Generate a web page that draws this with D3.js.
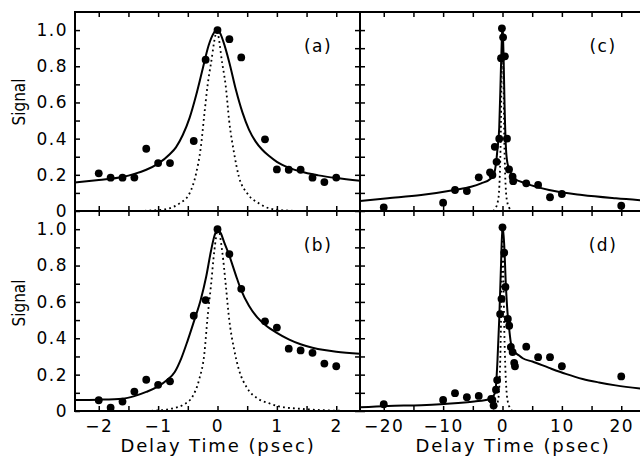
<!DOCTYPE html>
<html>
<head>
<meta charset="utf-8">
<script src="https://cdn.jsdelivr.net/npm/d3@7"></script>
<style>
  body { margin: 0; background: #fff; }
  svg { display: block; }
  text { font-family: "DejaVu Sans", sans-serif; fill: #000; }
</style>
</head>
<body>
<svg id="chart" width="640" height="463"></svg>
<script>
// ---- measured points (delay in psec, normalised signal) ----
const aTime   = [-2, -1.8, -1.6, -1.4, -1.2, -1.0, -0.8, -0.4, -0.2, 0, 0.2, 0.4, 0.8, 1.0, 1.2, 1.4, 1.6, 1.8, 2.0];
const aSignal = [0.208, 0.184, 0.184, 0.185, 0.344, 0.265, 0.265, 0.387, 0.836, 1.0, 0.95, 0.849, 0.396, 0.230, 0.228, 0.228, 0.184, 0.160, 0.185];

const bTime   = [-2, -1.8, -1.6, -1.4, -1.2, -1.0, -0.8, -0.4, -0.2, 0, 0.2, 0.4, 0.8, 1.0, 1.2, 1.4, 1.6, 1.8, 2.0];
const bSignal = [0.059, 0.018, 0.052, 0.107, 0.172, 0.144, 0.163, 0.524, 0.61, 1.0, 0.863, 0.672, 0.493, 0.459, 0.343, 0.333, 0.32, 0.261, 0.246];

const cTime   = [-20, -10, -8, -6, -4, -2.1, -1.7, -1.3, -1.0, -0.55, -0.25, -0.1, 0.1, 0.4, 0.75, 1.1, 1.7, 1.8, 4, 6, 8, 10, 20];
const cSignal = [0.02, 0.046, 0.116, 0.11, 0.186, 0.214, 0.199, 0.355, 0.272, 0.40, 0.845, 1.01, 0.96, 0.855, 0.40, 0.23, 0.19, 0.165, 0.153, 0.144, 0.076, 0.094, 0.029];

const dTime   = [-20, -10, -8, -6, -4, -1.9, -1.7, -1.5, -1.1, -0.9, -0.4, -0.17, 0, 0.29, 0.5, 0.9, 1.13, 1.41, 1.7, 1.97, 2.1, 4, 6, 8, 10, 20];
const dSignal = [0.037, 0.061, 0.098, 0.076, 0.083, 0.067, 0.061, 0.03, 0.117, 0.17, 0.533, 0.617, 1.01, 0.871, 0.682, 0.506, 0.469, 0.352, 0.324, 0.265, 0.246, 0.354, 0.296, 0.296, 0.246, 0.19];

// ---- fitted curves (solid) and system response (dotted) ----
const aFit = [[-2.4,0.158],[-2.0,0.172],[-1.6,0.188],[-1.4,0.205],[-1.2,0.228],[-1.0,0.262],[-0.8,0.315],[-0.7,0.352],[-0.585,0.42],[-0.47,0.515],[-0.36,0.64],[-0.25,0.785],[-0.15,0.915],[-0.07,0.98],[-0.02,1.0],[0.04,0.985],[0.1,0.935],[0.2,0.82],[0.31,0.67],[0.42,0.545],[0.53,0.45],[0.64,0.385],[0.75,0.34],[0.865,0.305],[1.0,0.272],[1.2,0.24],[1.4,0.218],[1.7,0.197],[2.0,0.182],[2.4,0.167]];
const aResp = [[-1.4,0],[-1.0,0.005],[-0.81,0.015],[-0.64,0.042],[-0.47,0.098],[-0.36,0.208],[-0.28,0.355],[-0.22,0.54],[-0.17,0.687],[-0.11,0.816],[-0.01,0.99],[0.08,0.816],[0.14,0.687],[0.196,0.5],[0.28,0.319],[0.36,0.19],[0.5,0.098],[0.7,0.042],[0.865,0.015],[1.1,0.004],[1.4,0]];

const bFit = [[-2.4,0.06],[-2.0,0.062],[-1.6,0.068],[-1.4,0.082],[-1.2,0.105],[-1.0,0.135],[-0.85,0.17],[-0.72,0.215],[-0.61,0.29],[-0.5,0.39],[-0.39,0.5],[-0.28,0.615],[-0.19,0.74],[-0.11,0.88],[-0.05,0.965],[0.0,1.0],[0.06,0.975],[0.11,0.93],[0.196,0.857],[0.31,0.746],[0.39,0.672],[0.53,0.579],[0.67,0.515],[0.81,0.472],[1.0,0.43],[1.2,0.394],[1.4,0.367],[1.6,0.348],[1.8,0.335],[2.0,0.326],[2.4,0.315]];
const bResp = [[-1.2,0],[-0.9,0.006],[-0.75,0.015],[-0.585,0.033],[-0.42,0.08],[-0.31,0.172],[-0.22,0.32],[-0.17,0.506],[-0.11,0.69],[-0.055,0.876],[0.01,1.0],[0.08,0.876],[0.14,0.69],[0.196,0.506],[0.28,0.339],[0.36,0.228],[0.5,0.126],[0.67,0.07],[0.865,0.043],[1.05,0.024],[1.4,0.012],[1.8,0.004],[2.4,0]];

const cFit = [[-24,0.055],[-19.3,0.07],[-13.7,0.088],[-8.1,0.116],[-5.3,0.134],[-3.6,0.153],[-1.95,0.18],[-1.4,0.208],[-1.1,0.26],[-0.84,0.345],[-0.55,0.46],[-0.27,0.78],[-0.1,0.963],[0,1.02],[0.17,0.87],[0.34,0.595],[0.57,0.355],[0.84,0.263],[1.13,0.236],[1.41,0.208],[1.97,0.18],[3.93,0.153],[7.85,0.116],[13.4,0.088],[19.1,0.07],[24,0.058]];
const cResp = [[-1.6,0],[-1.1,0.02],[-0.8,0.05],[-0.6,0.1],[-0.45,0.2],[-0.3,0.4],[-0.15,0.75],[0,1.0],[0.15,0.75],[0.3,0.4],[0.45,0.2],[0.6,0.1],[0.8,0.05],[1.1,0.02],[1.6,0]];

const dFit = [[-24.1,0.02],[-19.3,0.028],[-13.7,0.032],[-9.8,0.039],[-4.76,0.052],[-2.24,0.065],[-1.4,0.089],[-1.15,0.12],[-0.84,0.283],[-0.55,0.506],[-0.27,0.783],[0,1.02],[0.29,0.913],[0.57,0.69],[0.84,0.543],[1.13,0.45],[1.41,0.376],[1.97,0.33],[2.8,0.305],[3.4,0.29],[5.04,0.272],[7.85,0.237],[10.66,0.204],[13.5,0.176],[16.25,0.157],[19.06,0.141],[24,0.12]];
const dResp = [[-1.6,0],[-1.1,0.02],[-0.8,0.05],[-0.6,0.1],[-0.45,0.2],[-0.3,0.4],[-0.15,0.75],[0,1.0],[0.15,0.75],[0.3,0.45],[0.5,0.22],[0.7,0.1],[0.9,0.05],[1.2,0.02],[1.7,0]];

// ---- ticks ----
const shortTicks = d3.range(-2.0, 2.01, 0.5);
const shortLabels = [-2, -1, 0, 1, 2];
const longTicks = d3.range(-20, 21, 5);
const longLabels = [-20, -10, 0, 10, 20];
const signalTicks = d3.range(0, 1.05, 0.1);
const signalLabels = [0, 0.2, 0.4, 0.6, 0.8, 1.0];
const panelNames = ["(a)", "(b)", "(c)", "(d)"];

const svg = d3.select("#chart");
const colX = [[75, 360], [360, 645]];
const rowY = [[12, 211], [211, 411]];

const panels = [
  {name: panelNames[0], col: 0, row: 0, dom: [-2.4, 2.4], t: aTime, s: aSignal, fit: aFit, resp: aResp},
  {name: panelNames[1], col: 0, row: 1, dom: [-2.4, 2.4], t: bTime, s: bSignal, fit: bFit, resp: bResp},
  {name: panelNames[2], col: 1, row: 0, dom: [-24, 24], t: cTime, s: cSignal, fit: cFit, resp: cResp},
  {name: panelNames[3], col: 1, row: 1, dom: [-24, 24], t: dTime, s: dSignal, fit: dFit, resp: dResp}
];

const fmtSig = d => d === 0 ? "0" : d3.format(".1f")(d);
const near = (arr, d) => arr.some(v => Math.abs(v - d) < 1e-6);

panels.forEach((p, i) => {
  const [x0, x1] = colX[p.col], [y0, y1] = rowY[p.row];
  const x = d3.scaleLinear().domain(p.dom).range([x0, x1]);
  const y = d3.scaleLinear().domain([0, 1.1]).range([y1, y0]);
  const xt = p.col === 0 ? shortTicks : longTicks;
  const xl = p.col === 0 ? shortLabels : longLabels;

  const g = svg.append("g");
  g.append("clipPath").attr("id", "clip" + i)
    .append("rect").attr("x", x0).attr("y", y0).attr("width", x1 - x0).attr("height", y1 - y0);
  const plot = g.append("g").attr("clip-path", `url(#clip${i})`);

  const line = d3.line().x(d => x(d[0])).y(d => y(d[1])).curve(d3.curveMonotoneX);

  plot.append("path").datum(p.resp).attr("d", line)
    .attr("fill", "none").attr("stroke", "#000").attr("stroke-width", 1.8)
    .attr("stroke-dasharray", "1.8,3.2");
  plot.append("path").datum(p.fit).attr("d", line)
    .attr("fill", "none").attr("stroke", "#000").attr("stroke-width", 2);

  plot.selectAll("circle").data(p.t).join("circle")
    .attr("cx", d => x(d)).attr("cy", (d, j) => y(p.s[j])).attr("r", 3.9).attr("fill", "#000");

  // axes with inward ticks
  const bottom = g.append("g").attr("transform", `translate(0,${y1})`)
    .call(d3.axisBottom(x).tickValues(xt).tickSize(-5).tickPadding(9)
      .tickFormat(d => (p.row === 1 && near(xl, d)) ? d3.format("d")(d) : ""));
  const top = g.append("g").attr("transform", `translate(0,${y0})`)
    .call(d3.axisTop(x).tickValues(xt).tickSize(-5).tickFormat(""));
  const left = g.append("g").attr("transform", `translate(${x0},0)`)
    .call(d3.axisLeft(y).tickValues(signalTicks).tickSize(-5).tickPadding(7)
      .tickFormat(d => (p.col === 0 && near(signalLabels, d)) ? fmtSig(Math.round(d * 10) / 10) : ""));
  const right = g.append("g").attr("transform", `translate(${x1},0)`)
    .call(d3.axisRight(y).tickValues(signalTicks).tickSize(-5).tickFormat(""));

  [bottom, top, left, right].forEach(a => {
    a.select(".domain").remove();
    a.selectAll("line").attr("stroke", "#000").attr("stroke-width", 1.5);
    a.selectAll("text").filter(function() { return this.textContent === ""; }).remove();
    a.selectAll("text").attr("font-size", 17).attr("fill", "#000")
      .style("font-family", '"DejaVu Sans", sans-serif').style("letter-spacing", "1.5px");
  });

  g.append("rect").attr("x", x0).attr("y", y0).attr("width", x1 - x0).attr("height", y1 - y0)
    .attr("fill", "none").attr("stroke", "#000").attr("stroke-width", 2);

  g.append("text").attr("x", x0 + 243).attr("y", y0 + 40)
    .attr("text-anchor", "middle").attr("font-size", 17).style("letter-spacing", "1.5px")
    .text(p.name);
});

// axis titles
[[218, 452], [513, 452]].forEach(([cx, cy]) => {
  svg.append("text").attr("x", cx).attr("y", cy).attr("text-anchor", "middle")
    .attr("font-size", 18).style("letter-spacing", "1.9px").text("Delay Time (psec)");
});
[102, 303].forEach(cy => {
  svg.append("text").attr("transform", `translate(25,${cy}) rotate(-90)`)
    .attr("text-anchor", "middle").attr("font-size", 17)
    .style("font-family", '"DejaVu Sans Condensed", "DejaVu Sans", sans-serif').text("Signal");
});
</script>
</body>
</html>
